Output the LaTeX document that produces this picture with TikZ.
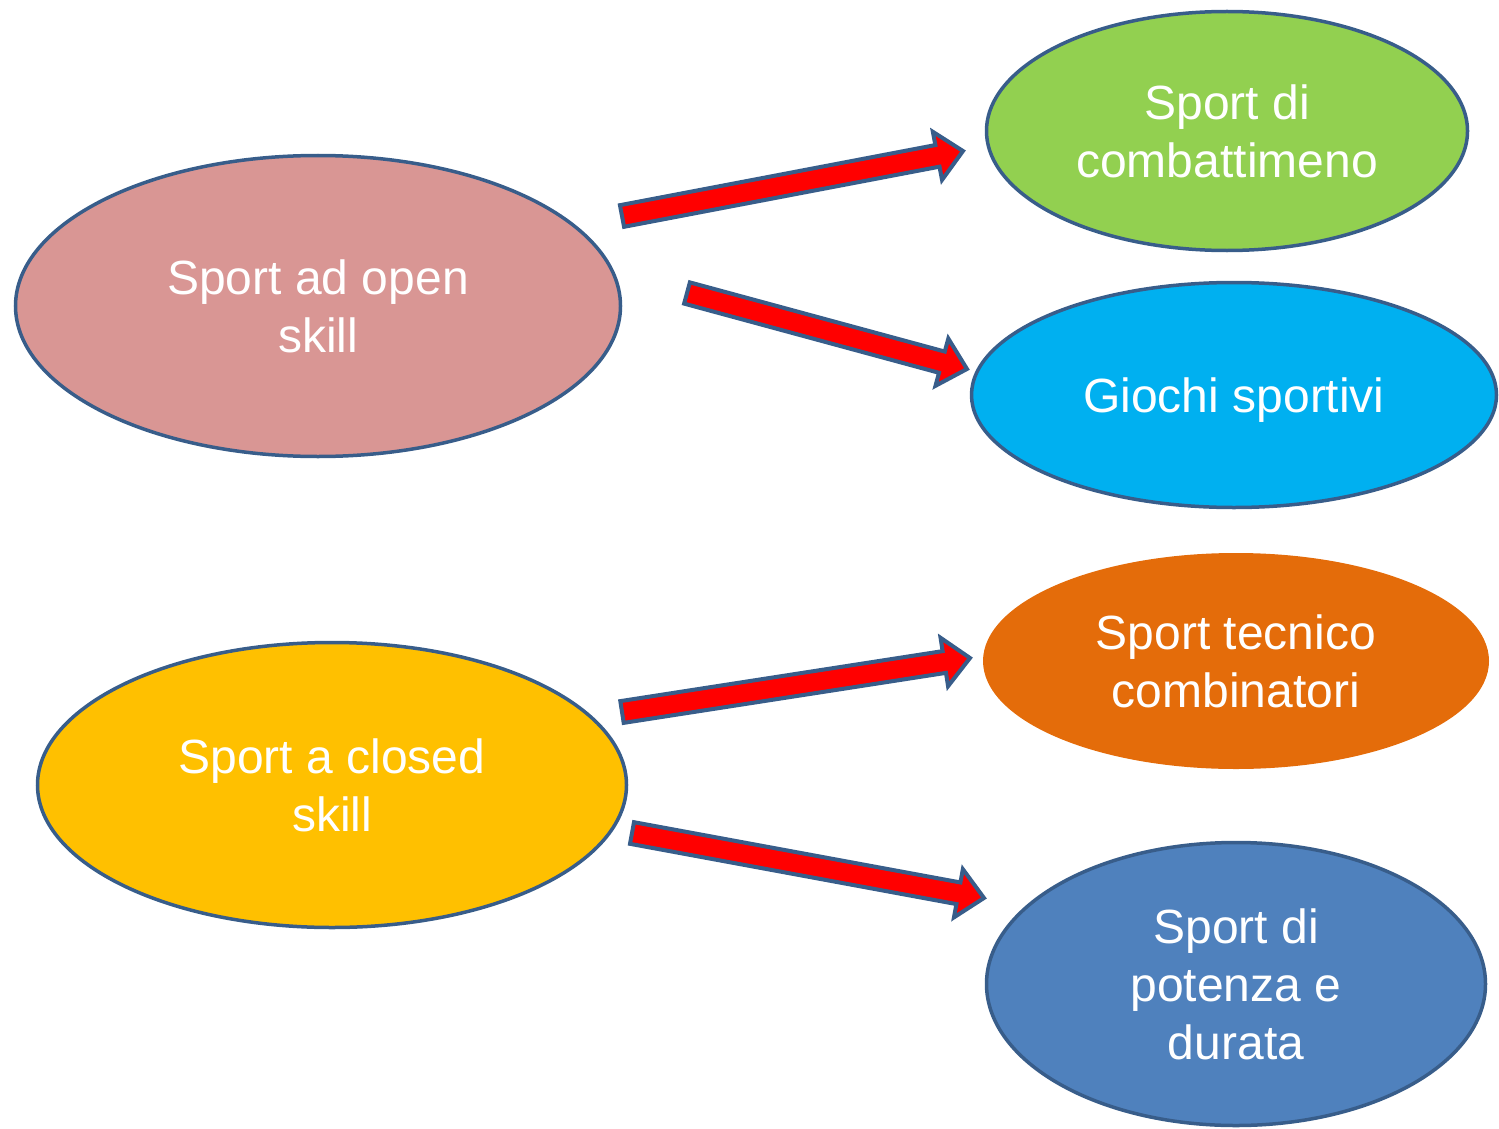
\documentclass[tikz,border=0pt]{standalone}
\usepackage{fontspec}
\setmainfont{Liberation Sans}
\usetikzlibrary{shapes.geometric,calc}

\definecolor{rim}{HTML}{385D8A}
\definecolor{openfill}{HTML}{D99694}
\definecolor{fightfill}{HTML}{92D050}
\definecolor{gamesfill}{HTML}{00B0F0}
\definecolor{techfill}{HTML}{E46C0A}
\definecolor{closedfill}{HTML}{FFC000}
\definecolor{powerfill}{HTML}{4F81BD}

\tikzset{
  bubble/.style={ellipse, draw=rim, line width=1.75pt, inner sep=0pt,
    text=white, align=center, font=\fontsize{24}{29}\selectfont},
  arrowbody/.style={draw=rim, fill=red, line width=2pt, line join=miter},
}

% block arrow from #1 to #2: red body, blue outline
\newcommand\blockarrow[2]{%
  \path[arrowbody] let \p1=($(#2)-(#1)$), \n1={atan2(\y1,\x1)},
      \n2={veclen(\x1,\y1)} in
    [shift={(#1)}, rotate=\n1]
    (0pt,-5.5pt) -- ({\n2*1pt-13pt},-5.5pt) -- ({\n2*1pt-13pt},-12.25pt)
    -- ({\n2*1pt},0pt) -- ({\n2*1pt-13pt},12.25pt) -- ({\n2*1pt-13pt},5.5pt)
    -- (0pt,5.5pt) -- cycle;}

\begin{document}
\begin{tikzpicture}[x=0.5pt,y=-0.5pt]
\path[use as bounding box] (0,0) rectangle (1499,1129);

% left-hand groups
\node[bubble, fill=openfill, minimum width=302.5pt, minimum height=150.5pt]
  (open) at (318,306) {Sport ad open\\skill};
\node[bubble, fill=closedfill, minimum width=294.5pt, minimum height=142.5pt]
  (closed) at (332,785) {Sport a closed\\skill};

% right-hand categories
\node[bubble, fill=fightfill, minimum width=240.5pt, minimum height=119.5pt]
  (fight) at (1227,131) {Sport di\\combattimeno};
\node[bubble, fill=gamesfill, minimum width=262.5pt, minimum height=112.5pt,
  text depth=0pt] (games) at (1234,395) {Giochi sportivi};
\node[bubble, draw=none, fill=techfill, minimum width=253pt, minimum height=108pt]
  (tech) at (1236,661) {Sport tecnico\\combinatori};
\node[bubble, fill=powerfill, minimum width=249.5pt, minimum height=141.5pt]
  (power) at (1236,984) {Sport di\\potenza e\\durata};

% arrow ends
\coordinate (a1s) at (622,216);  \coordinate (a1e) at (963,151);
\coordinate (a2s) at (687,293);  \coordinate (a2e) at (967,369);
\coordinate (a3s) at (622,712);  \coordinate (a3e) at (970,658);
\coordinate (a4s) at (632,833);  \coordinate (a4e) at (984,898);

\blockarrow{a1s}{a1e}
\blockarrow{a2s}{a2e}
\blockarrow{a3s}{a3e}
\blockarrow{a4s}{a4e}
\end{tikzpicture}
\end{document}
